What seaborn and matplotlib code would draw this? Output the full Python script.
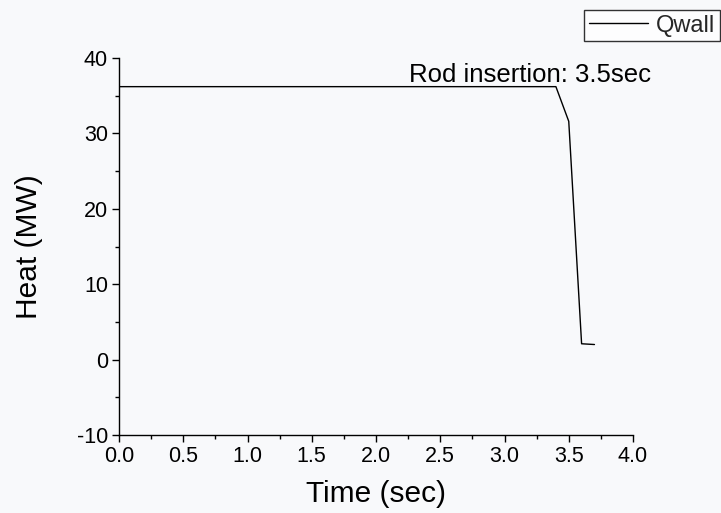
import matplotlib
matplotlib.use("Agg")
import matplotlib.pyplot as plt
import seaborn as sns
import pandas as pd
from matplotlib.ticker import MultipleLocator, FormatStrFormatter

time_sec = [0.0, 3.4, 3.5, 3.6, 3.7]
qwall_mw = [36.2, 36.2, 31.6, 2.1, 2.0]
series_name = "Qwall"
annotation = "Rod insertion: 3.5sec"

sns.set_theme(style="ticks")
plt.rcParams['font.family'] = ['Liberation Sans', 'DejaVu Sans']
plt.rcParams['axes.unicode_minus'] = False
bg = "#f8f9fb"

df = pd.DataFrame({"Time": time_sec, "Heat": qwall_mw})

fig = plt.figure(figsize=(7.21, 5.13), dpi=100, facecolor=bg)
ax = fig.add_axes([119/721, 1 - 435/513, (633-119)/721, (435-58)/513])
ax.set_facecolor(bg)

sns.lineplot(data=df, x="Time", y="Heat", ax=ax, color="black", linewidth=1.0, label=series_name)

ax.set_xlim(0, 4)
ax.set_ylim(-10, 40)
ax.xaxis.set_major_locator(MultipleLocator(0.5))
ax.xaxis.set_minor_locator(MultipleLocator(0.25))
ax.yaxis.set_major_locator(MultipleLocator(10))
ax.yaxis.set_minor_locator(MultipleLocator(5))
ax.xaxis.set_major_formatter(FormatStrFormatter('%.1f'))
ax.tick_params(which='major', direction='out', length=5, width=1, labelsize=15.5,
               color='black', labelcolor='black', pad=3)
ax.tick_params(which='minor', direction='out', length=3, width=1, color='black')
for s in ['top', 'right']:
    ax.spines[s].set_visible(False)
for s in ['left', 'bottom']:
    ax.spines[s].set_color('black')
    ax.spines[s].set_linewidth(1.0)

ax.set_xlabel("Time (sec)", fontsize=21.5, color='black', labelpad=9.5)
ax.set_ylabel("Heat (MW)", fontsize=21.5, color='black', labelpad=24)

ax.text(2.26, 37.7, annotation, fontsize=18.5, color='black', va='center', ha='left')

leg = ax.legend(loc='upper right', bbox_to_anchor=(720/721, 1 - 10/513), bbox_transform=fig.transFigure,
                frameon=True, fancybox=False, fontsize=17, handlelength=2.5, handletextpad=0.35,
                borderpad=0.2, borderaxespad=0)
leg.get_frame().set_edgecolor('black')
leg.get_frame().set_facecolor('white')
leg.get_frame().set_linewidth(1.0)

fig.savefig("out.png", dpi=100, facecolor=bg)
